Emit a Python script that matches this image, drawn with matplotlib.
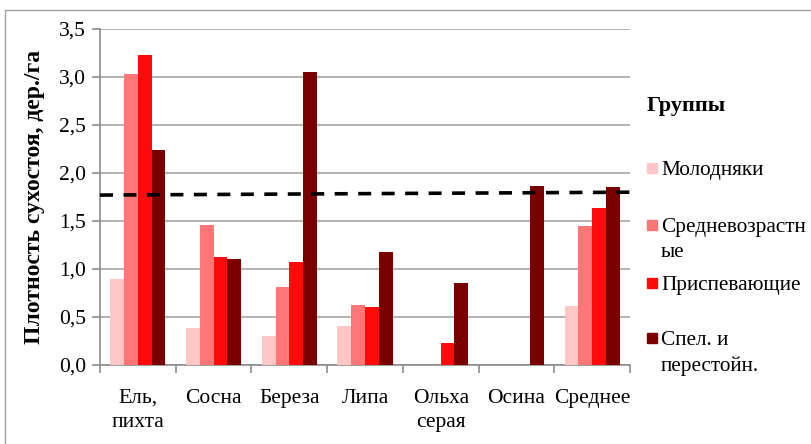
import numpy as np
import matplotlib
matplotlib.use('Agg')
from matplotlib import pyplot as plt
from matplotlib.patches import Rectangle
from matplotlib.ticker import FuncFormatter

# Data
categories = ['Ель,\nпихта', 'Сосна', 'Береза', 'Липа', 'Ольха\nсерая', 'Осина', 'Среднее']
series_names = ['Молодняки', 'Средневозрастн\nые', 'Приспевающие', 'Спел. и\nперестойн.']
molodnyaki = [0.90, 0.39, 0.30, 0.41, 0.0, 0.0, 0.61]
srednevozr = [3.03, 1.46, 0.81, 0.62, 0.0, 0.0, 1.45]
prispev = [3.23, 1.12, 1.07, 0.60, 0.23, 0.0, 1.64]
spelye = [2.24, 1.10, 3.05, 1.18, 0.85, 1.86, 1.85]
trend = [1.77, 1.80]  # dashed line, left and right ends

colors = ['#FFC6C6', '#FF7676', '#FF0A0A', '#7A0000']
values = [molodnyaki, srednevozr, prispev, spelye]

plt.rcParams['font.family'] = ['Liberation Serif', 'DejaVu Serif']

W, H = 812, 444
fig = plt.figure(figsize=(W / 100, H / 100), dpi=100)
ax = fig.add_axes([100 / W, 1 - 365 / H, 530 / W, 336 / H])

x = np.arange(len(categories))
bw = 0.182
for i, (vals, col) in enumerate(zip(values, colors)):
    ax.bar(x + (i - 1.5) * bw, vals, width=bw, color=col, zorder=3)

ax.plot([-0.5, len(categories) - 0.5], trend, color='black', lw=2.6,
        dashes=(3.6, 2.9), zorder=4)

ax.set_xlim(-0.5, len(categories) - 0.5)
ax.set_ylim(0, 3.5)
ax.set_yticks(np.arange(0, 3.51, 0.5))
ax.yaxis.set_major_formatter(FuncFormatter(lambda v, p: f'{v:.1f}'.replace('.', ',')))
ax.grid(axis='y', color='#A6A6A6', lw=1.2, zorder=0)

ax.set_xticks(x)
ax.set_xticklabels(categories, fontsize=15.5, linespacing=1.35)
ax.set_xticks(np.arange(-0.5, len(categories)), minor=True)
ax.tick_params(axis='x', which='major', length=0, pad=17)
ax.tick_params(axis='x', which='minor', length=6, color='#8C8C8C', width=1.2)
ax.tick_params(axis='y', length=6, color='#8C8C8C', width=1.2, labelsize=15.5, pad=4)

for s in ['top', 'right']:
    ax.spines[s].set_visible(False)
for s in ['left', 'bottom']:
    ax.spines[s].set_color('#8C8C8C')
    ax.spines[s].set_linewidth(1.2)

ax.set_ylabel('Плотность сухостоя, дер./га', fontsize=17, fontweight='bold', labelpad=10)

# Legend drawn by hand so markers sit on the first line of each label
fig.text(647 / W, 1 - 106 / H, 'Группы', fontsize=16, fontweight='bold', va='center')
legend_y = [168, 225, 283, 338]
for yy, name, col in zip(legend_y, series_names, colors):
    fig.add_artist(Rectangle((647 / W, 1 - (yy + 5) / H), 10 / W, 10 / H,
                             color=col, transform=fig.transFigure))
    fig.text(661 / W, 1 - (yy - 7) / H, name, fontsize=15.3, va='top', linespacing=1.45)

# outer chart border
fig.add_artist(Rectangle((5 / W, -0.05), 1.0, 1 - 10 / H + 0.05, fill=False,
                         edgecolor='#A0A0A0', lw=1, transform=fig.transFigure))

fig.savefig('out.png', dpi=100)
